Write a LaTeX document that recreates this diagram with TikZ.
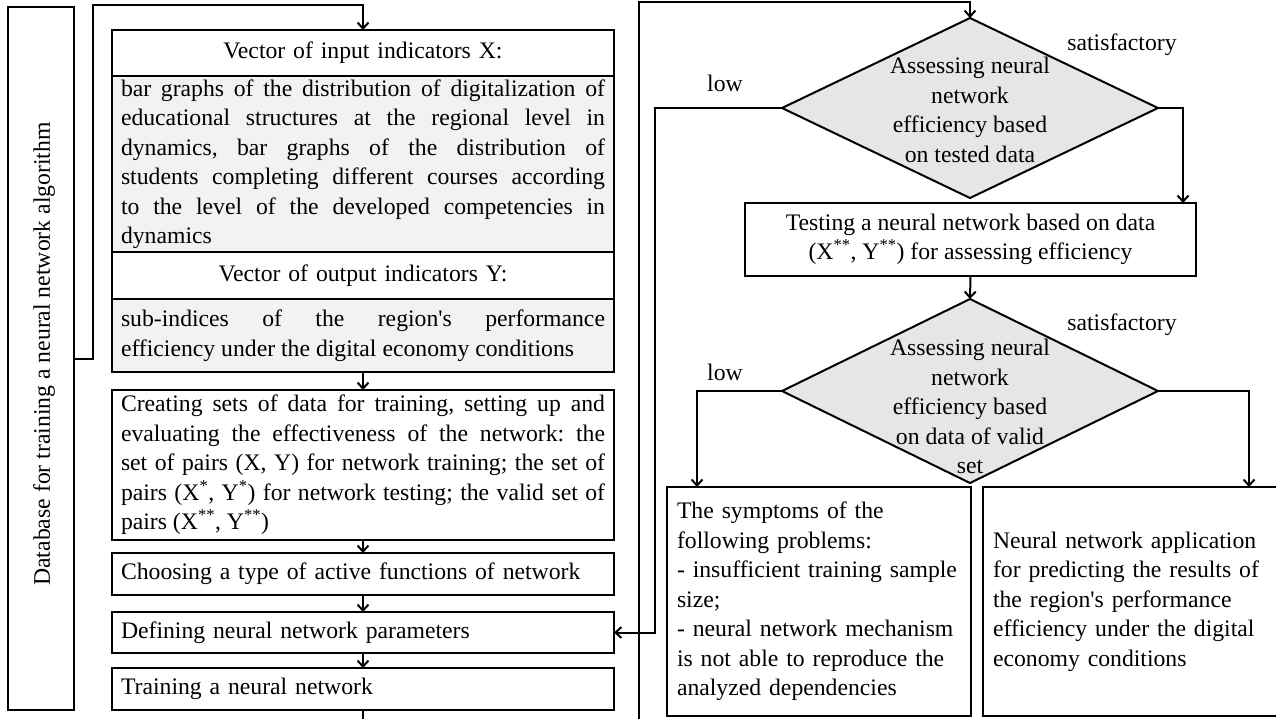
\documentclass[tikz,border=0pt]{standalone}
\usepackage{fontspec}
\setmainfont{Liberation Serif}
\usetikzlibrary{arrows.meta,shapes.geometric}
\definecolor{boxgray}{HTML}{F2F2F2}
\definecolor{diagray}{HTML}{E6E6E6}
\font\apofnt="Liberation Serif" at 23.7pt
\newcommand{\apo}{{\apofnt\char39}}
\begin{document}
\tolerance=10000 \hyphenpenalty=10000 \exhyphenpenalty=10000 \frenchspacing
\begin{tikzpicture}[x=1pt,y=-1pt,
  every node/.style={font=\fontsize{23.7}{29.5}\selectfont},
  box/.style={draw, line width=2pt, inner sep=0pt, outer sep=0pt},
  colbox/.style={box, fill=white, minimum width=502pt, inner xsep=9pt, text width=484pt},
  hbox/.style={colbox, align=center},
  jbox/.style={colbox, align=justify},
  lbox/.style={colbox, align=left},
  gbox/.style={jbox, fill=boxgray},
  dia/.style={draw, line width=2pt, diamond, fill=diagray, inner sep=0pt, outer sep=0pt, minimum width=376pt},
  lbl/.style={inner sep=0pt, align=center},
  arr/.style={line width=2pt, -{Straight Barb[length=6pt,width=11pt]}},
  ln/.style={line width=2pt}
]
\useasboundingbox (0,0) rectangle (1276,718);

% left database box
\node[box, minimum width=66pt, minimum height=703pt] (db) at (41,358.5) {};
\node[lbl, rotate=90] (dbt) at (44,354) {Database for training a neural network algorithm};

% left column
\node[hbox, minimum height=46pt] (vx) at (363,53) {Vector of input indicators X:};
\node[gbox, minimum height=176pt] (gx) at (363,164) {bar graphs of the distribution of digitalization of\linebreak educational structures at the regional level in\linebreak dynamics, bar graphs of the distribution of\linebreak students completing different courses according\linebreak to the level of the developed competencies in\linebreak dynamics};
\node[hbox, minimum height=47pt] (vy) at (363,275.5) {Vector of output indicators Y:};
\node[gbox, minimum height=73pt] (gy) at (363,335.5) {sub-indices of the region\apo s performance\linebreak efficiency under the digital economy conditions};
\node[jbox, minimum height=150pt] (cr) at (363,465) {Creating sets of data for training, setting up and\linebreak evaluating the effectiveness of the network: the\linebreak set of pairs (X, Y) for network training; the set of\linebreak pairs (X\textsuperscript{*}, Y\textsuperscript{*}) for network testing; the valid set of\linebreak pairs (X\textsuperscript{**}, Y\textsuperscript{**})};
\node[lbox, minimum height=42pt] (ch) at (363,574) {Choosing a type of active functions of network};
\node[lbox, minimum height=41pt] (df) at (363,632.5) {Defining neural network parameters};
\node[lbox, minimum height=42pt] (tr) at (363,689) {Training a neural network};

\coordinate (c1) at (93,5);
\draw[arr] (db.east) -| (c1) -| (vx.north);
\draw[arr] (gy.south) -- (cr.north);
\draw[arr] (cr.south) -- (ch.north);
\draw[arr] (ch.south) -- (df.north);
\draw[arr] (df.south) -- (tr.north);
\coordinate (b1) at (363,720);
\draw[ln] (tr.south) -- (b1);

% right part
\node[dia, minimum height=180pt] (d1) at (970,108) {};
\node[lbl] (d1t) at (970,110) {Assessing neural\\network\\efficiency based\\on tested data};
\node[lbl] (low1) at (725,83) {low};
\node[lbl] (sat1) at (1122,45) {satisfactory};

\coordinate (b2) at (639,720);
\coordinate (t2) at (639,2);
\draw[arr] (b2) -- (t2) -| (d1.north);

\coordinate (l1) at (655,108);
\draw[arr] (d1.west) -- (l1) |- (df.east);

\node[box, minimum width=451pt, minimum height=73pt, align=center] (tst) at (970.5,239.5) {Testing a neural network based on data\\(X\textsuperscript{**}, Y\textsuperscript{**}) for assessing efficiency};
\draw[arr] (d1.east) -| ([xshift=-13pt]tst.north east);
\node[dia, minimum height=184pt] (d2) at (970,391) {};
\node[lbl] (d2t) at (970,406.5) {Assessing neural\\network\\efficiency based\\on data of valid\\set};
\draw[arr] (tst.south) -- (d2.north);
\node[lbl] (low2) at (725,372) {low};
\node[lbl] (sat2) at (1122,325) {satisfactory};

\node[box, minimum width=304pt, minimum height=229pt, inner xsep=10pt, text width=284pt, align=left] (sym) at (819,601.5) {The symptoms of the\\following problems:\\\mbox{- insufficient training sample}\\size;\\- neural network mechanism\\is not able to reproduce the\\analyzed dependencies};
\node[box, minimum width=297pt, minimum height=229pt, inner xsep=10pt, text width=277pt, align=left] (app) at (1131.5,601.5) {Neural network application\\for predicting the results of\\the region\apo s performance\\efficiency under the digital\\economy conditions};
\draw[arr] (d2.west) -| ([xshift=30pt]sym.north west);
\draw[arr] (d2.east) -| ([xshift=266pt]app.north west);
\end{tikzpicture}
\end{document}
